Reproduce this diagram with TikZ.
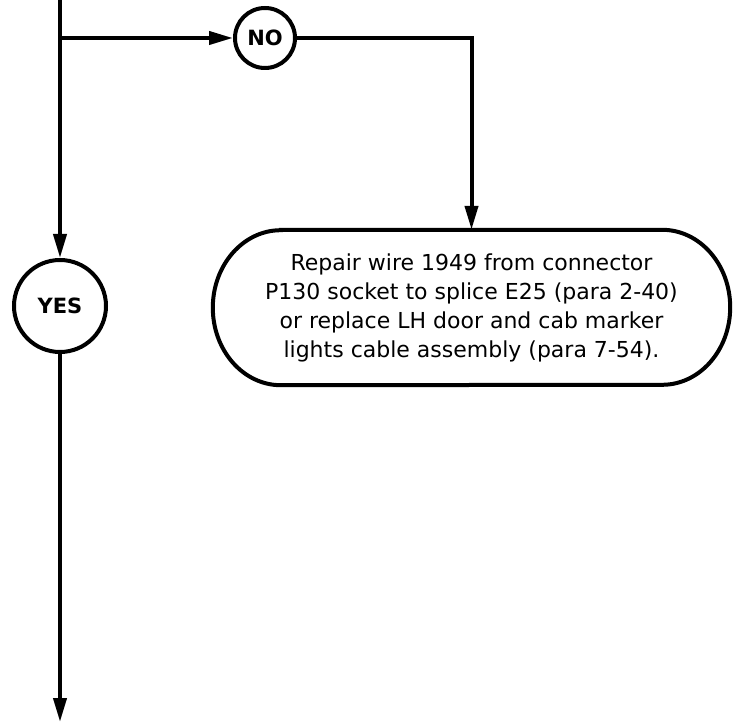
\documentclass[tikz,border=0pt]{standalone}
\usepackage{fontspec}
\setmainfont{DejaVu Sans}
\usetikzlibrary{arrows.meta, positioning, calc}

\begin{document}
\begin{tikzpicture}[
    x=1pt, y=1pt,
    font=\fontsize{22}{29}\selectfont,
    answer/.style={circle, draw, line width=4pt, inner sep=0pt,
                   font=\fontsize{21}{25}\selectfont\bfseries},
    action/.style={rectangle, align=center, inner sep=0pt,
                   minimum width=517pt, minimum height=155pt},
    arr/.style={-{Triangle[length=24pt, width=13pt]}, line width=4pt},
    wire/.style={line width=4pt},
]
\useasboundingbox (0,0) rectangle (733,723);

\coordinate (top)    at (60,723);
\coordinate (branch) at (60,685);
\coordinate (corner) at (471.5,685);
\coordinate (bottom) at (60,1);

\node[answer, minimum size=60pt] (no)  at (265,685) {NO};
\node[answer, minimum size=92pt] (yes) at (60,417)  {YES};
\node[action] (repair) at (471.5,415.5)
    {Repair wire 1949 from connector\\P130 socket to splice E25 (para 2-40)\\or replace LH door and cab marker\\lights cable assembly (para 7-54).};

% stadium outline round the repair text
\draw[wire] ($(repair.north west)+(68,0)$) -- ($(repair.north east)+(-68,0)$)
    arc[start angle=90, end angle=-90, x radius=68, y radius=77.5]
    -- ($(repair.south west)+(68,0)$)
    arc[start angle=270, end angle=90, x radius=68, y radius=77.5] -- cycle;

\draw[arr] (top) -- (yes);
\draw[arr] (branch) -- (no);
\draw[arr] (no) -- (corner) -- (repair.north);
\draw[arr] (yes) -- (bottom);

\end{tikzpicture}
\end{document}
